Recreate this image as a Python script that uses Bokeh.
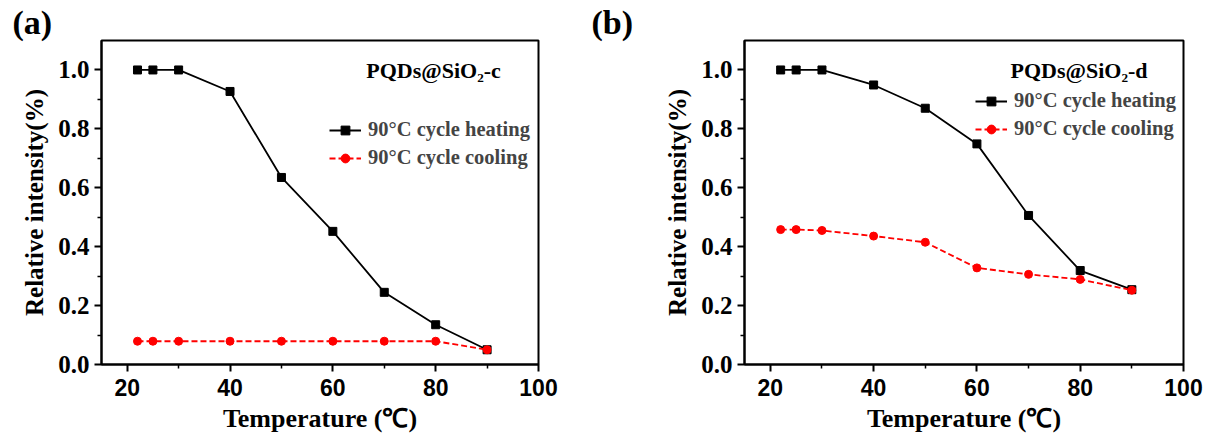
from bokeh.plotting import figure
from bokeh.layouts import row
from bokeh.models import FixedTicker, PrintfTickFormatter, Legend, LegendItem, Label, Range1d, Title
from bokeh.embed import file_html
from bokeh.resources import INLINE

# ---- data ----
temperature = [22, 25, 30, 40, 50, 60, 70, 80, 90]
heating_c = [1.0, 1.0, 1.0, 0.927, 0.635, 0.452, 0.245, 0.135, 0.05]
cooling_c = [0.079, 0.079, 0.079, 0.079, 0.079, 0.079, 0.079, 0.079, 0.05]
heating_d = [1.0, 1.0, 1.0, 0.949, 0.870, 0.749, 0.506, 0.319, 0.254]
cooling_d = [0.458, 0.458, 0.455, 0.436, 0.415, 0.328, 0.306, 0.289, 0.252]
x_ticks = [20, 40, 60, 80, 100]
x_minor = [30, 50, 70, 90]
y_ticks = [0.0, 0.2, 0.4, 0.6, 0.8, 1.0]
y_minor = [0.1, 0.3, 0.5, 0.7, 0.9]
series_labels = ["90°C cycle heating", "90°C cycle cooling"]
sample_names = ["PQDs@SiO₂-c", "PQDs@SiO₂-d"]
panel_tags = ["(a)", "(b)"]

SERIF = "Liberation Serif"
SANS = "Liberation Sans"


def make_panel(width, left, right, heating, cooling, sample, tag, tag_offset, legend_loc):
    p = figure(width=width, height=435, output_backend="svg", toolbar_location=None,
               x_range=Range1d(15, 100), y_range=Range1d(0, 1.1),
               min_border_left=left, min_border_right=right,
               min_border_top=40, min_border_bottom=71)
    p.xgrid.visible = False
    p.ygrid.visible = False
    p.outline_line_color = "black"
    p.outline_line_width = 2
    p.background_fill_color = "white"
    p.border_fill_color = "white"

    p.add_layout(Title(text=tag, align="left", offset=tag_offset, standoff=0,
                       text_font=SERIF, text_font_style="bold",
                       text_font_size="34px", text_color="black"), "above")

    for ax in (p.xaxis[0], p.yaxis[0]):
        ax.axis_line_width = 2
        ax.axis_line_color = "black"
        ax.major_tick_in = 0
        ax.major_tick_out = 7
        ax.minor_tick_in = 0
        ax.minor_tick_out = 4
        ax.major_tick_line_width = 2
        ax.minor_tick_line_width = 1.5
        ax.axis_label_text_font = SERIF
        ax.axis_label_text_font_style = "bold"
        ax.axis_label_text_color = "black"
        ax.major_label_text_color = "black"
        ax.major_label_text_font_style = "bold"

    p.xaxis.ticker = FixedTicker(ticks=x_ticks, minor_ticks=x_minor)
    p.yaxis.ticker = FixedTicker(ticks=y_ticks, minor_ticks=y_minor)
    p.yaxis.formatter = PrintfTickFormatter(format="%.1f")
    p.xaxis.major_label_text_font = SANS
    p.xaxis.major_label_text_font_size = "23px"
    p.xaxis.major_label_standoff = 7
    p.xaxis.axis_label_standoff = 5
    p.xaxis.axis_label_text_font_size = "26px"
    p.yaxis.major_label_text_font = SERIF
    p.yaxis.major_label_text_font_size = "25px"
    p.yaxis.major_label_standoff = 5
    p.yaxis.axis_label_standoff = 7
    p.yaxis.axis_label_text_font_size = "25px"
    p.xaxis.axis_label = "Temperature (℃)"
    p.yaxis.axis_label = "Relative intensity(%)"

    hl = p.line(temperature, heating, line_color="black", line_width=1.8)
    hs = p.scatter(temperature, heating, marker="square", size=8,
                   fill_color="black", line_color="black")
    cl = p.line(temperature, cooling, line_color="#ff0000", line_width=1.8,
                line_dash="6 3")
    cs = p.scatter(temperature, cooling, marker="circle", size=8,
                   fill_color="#ff0000", line_color="#ff0000")

    legend = Legend(items=[LegendItem(label=series_labels[0], renderers=[hl, hs]),
                           LegendItem(label=series_labels[1], renderers=[cl, cs])],
                    location=legend_loc, padding=0, margin=0,
                    background_fill_alpha=0, border_line_alpha=0,
                    label_text_font=SERIF, label_text_font_style="bold",
                    label_text_font_size="20.5px", glyph_width=32, glyph_height=22,
                    label_height=22, label_standoff=7, spacing=5)
    p.add_layout(legend)

    p.add_layout(Label(x=66.5, y=0.998, text=sample, text_align="left",
                       text_baseline="middle", text_font=SERIF,
                       text_font_style="bold", text_font_size="22px",
                       text_color="black"))
    return p


pa = make_panel(585, 101, 47, heating_c, cooling_c, sample_names[0], panel_tags[0], -89, (228, 195))
pb = make_panel(621, 159, 23, heating_d, cooling_d, sample_names[1], panel_tags[1], -153, (231, 224))

layout = row(pa, pb)
open("out.html", "w").write(file_html(layout, INLINE))
